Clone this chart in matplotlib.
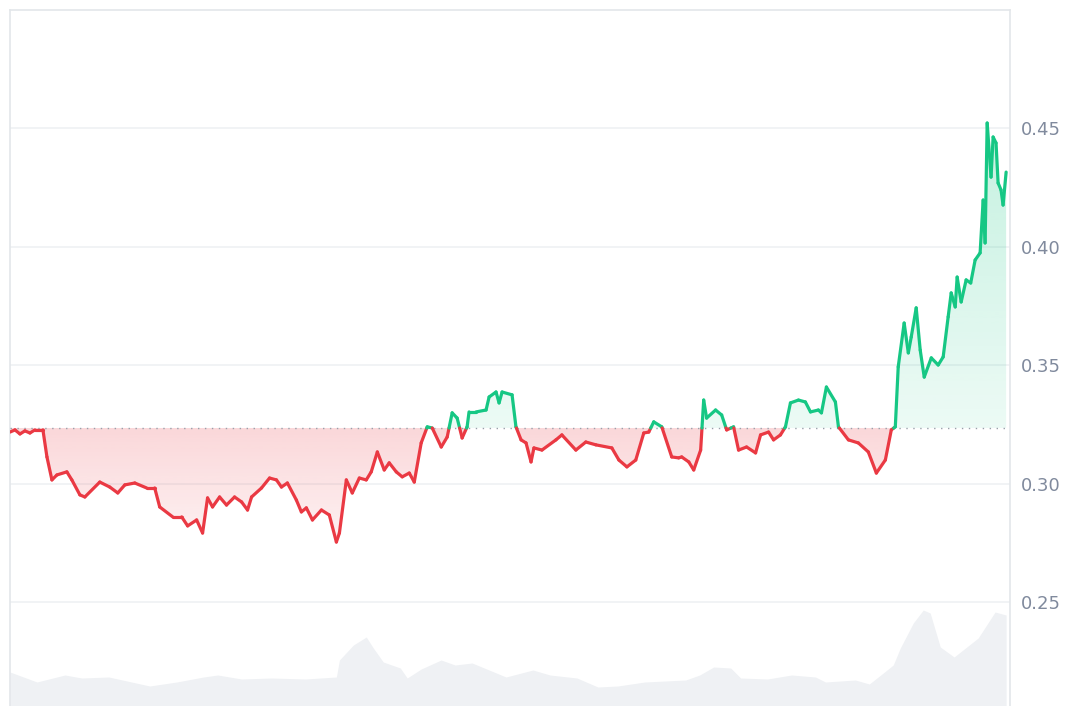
import numpy as np
import matplotlib
matplotlib.use("Agg")
import matplotlib.pyplot as plt
from matplotlib.collections import LineCollection
from matplotlib.path import Path
from matplotlib.patches import PathPatch

# ---- data (hours since start, price in USD) ----
hours = [0, 3.6, 7.2, 10.8, 14.4, 18.0, 23.8, 26.7, 30.3, 33.9, 41.1, 44.7, 50.5, 54.1,
         64.9, 72.1, 77.9, 83.0, 90.2, 98.8, 104.6, 108.2, 117.6, 124.1, 128.4, 134.9,
         139.2, 142.8, 146.4, 151.5, 156.5, 162.3, 167.4, 171.7, 174.6, 181.8, 187.6,
         192.6, 196.2, 200.5, 207.0, 210.6, 214.2, 218.6, 225.1, 230.8, 235.9, 238.1,
         243.1, 247.4, 252.5, 257.5, 261.1, 265.5, 270.5, 274.1, 279.2, 283.5, 288.6,
         292.2, 297.2, 301.6, 305.2, 311.7, 316.0, 319.6, 323.2, 326.8, 330.4, 331.8,
         336.9, 344.1, 346.3, 351.3, 353.5, 355.7, 362.9, 365.7, 369.4, 373.0, 376.6,
         378.7, 384.5, 394.6, 398.9, 409.0, 416.2, 423.5, 435.0, 440.1, 445.9, 452.3,
         458.1, 461.7, 465.3, 471.1, 478.3, 483.3, 485.5, 490.6, 494.2, 499.2, 501.4,
         503.5, 510.0, 514.4, 518.0, 523.0, 526.6, 532.4, 538.9, 542.5, 548.3, 551.9,
         556.9, 560.5, 564.1, 569.9, 574.9, 578.6, 584.3, 586.5, 590.1, 596.6, 598.8,
         606.0, 613.2, 620.4, 626.2, 632.7, 637.0, 639.9, 642.0, 646.3, 649.3, 651.4,
         655.0, 657.9, 660.8, 665.9, 670.9, 674.5, 678.1, 680.3, 683.2, 684.6, 687.5,
         691.1, 694.4, 697.6, 701.2, 703.4, 704.8, 706.3, 709.1, 710.6, 712.7, 714.2,
         716.3, 717.8, 720.0]
price = [0.3219, 0.3228, 0.3211, 0.3224, 0.3215, 0.3228, 0.3228, 0.3114, 0.3017, 0.3038,
         0.3051, 0.3017, 0.2954, 0.2945, 0.3008, 0.2987, 0.2962, 0.2996, 0.3004, 0.2983,
         0.2983, 0.2903, 0.2861, 0.2861, 0.2823, 0.2848, 0.2793, 0.2941, 0.2903, 0.2945,
         0.2911, 0.2945, 0.2924, 0.2890, 0.2945, 0.2983, 0.3025, 0.3017, 0.2987, 0.3004,
         0.2932, 0.2882, 0.2899, 0.2848, 0.2890, 0.2869, 0.2755, 0.2793, 0.3017, 0.2962,
         0.3025, 0.3017, 0.3051, 0.3135, 0.3059, 0.3089, 0.3051, 0.3030, 0.3046, 0.3008,
         0.3173, 0.3241, 0.3236, 0.3156, 0.3198, 0.3300, 0.3278, 0.3194, 0.3241, 0.3304,
         0.3304, 0.3312, 0.3367, 0.3388, 0.3342, 0.3388, 0.3376, 0.3241, 0.3186, 0.3173,
         0.3093, 0.3152, 0.3143, 0.3186, 0.3207, 0.3143, 0.3177, 0.3165, 0.3152, 0.3101,
         0.3072, 0.3101, 0.3215, 0.3219, 0.3262, 0.3241, 0.3114, 0.3110, 0.3114, 0.3093,
         0.3059, 0.3143, 0.3354, 0.3278, 0.3312, 0.3291, 0.3228, 0.3241, 0.3143, 0.3156,
         0.3131, 0.3207, 0.3219, 0.3186, 0.3207, 0.3241, 0.3342, 0.3354, 0.3346, 0.3304,
         0.3312, 0.3300, 0.3409, 0.3346, 0.3241, 0.3186, 0.3173, 0.3135, 0.3046, 0.3101,
         0.3228, 0.3241, 0.3494, 0.3679, 0.3553, 0.3620, 0.3743, 0.3565, 0.3451, 0.3532,
         0.3502, 0.3536, 0.3705, 0.3806, 0.3747, 0.3873, 0.3768, 0.3861, 0.3848, 0.3945,
         0.3975, 0.4198, 0.4017, 0.4523, 0.4295, 0.4464, 0.4439, 0.4270, 0.4241, 0.4177,
         0.4316]

vol_hours = [0, 19.5, 39.7, 51.9, 71.4, 101.0, 120.5, 139.9, 150.1, 167.4, 189.0, 213.5,
             235.9, 238.1, 248.2, 257.5, 262.6, 269.8, 282.1, 287.1, 297.2, 311.6, 321.7,
             334.0, 346.3, 358.5, 378.0, 390.3, 409.8, 424.9, 439.3, 458.8, 488.4, 498.5,
             508.6, 520.9, 528.1, 547.5, 564.9, 582.2, 589.4, 611.0, 621.1, 631.2, 638.4,
             643.5, 652.9, 660.1, 665.1, 672.4, 682.4, 699.8, 712.0, 720.0]
volume = [8.5, 6.0, 7.75, 7.0, 7.25, 5.0, 6.0, 7.25, 7.75, 6.75, 7.0, 6.75, 7.25, 11.5,
          15.25, 17.25, 14.5, 11.0, 9.5, 7.0, 9.25, 11.5, 10.25, 10.75, 9.0, 7.25, 9.0,
          7.75, 7.0, 4.75, 5.0, 6.0, 6.5, 7.75, 9.75, 9.5, 7.0, 6.75, 7.75, 7.25, 6.0,
          6.5, 5.5, 8.25, 10.25, 14.5, 20.75, 24.0, 23.25, 14.75, 12.25, 17.0, 23.5, 22.75]

baseline = 0.3236
yticks = [0.25, 0.30, 0.35, 0.40, 0.45]
ytick_labels = ["0.25", "0.30", "0.35", "0.40", "0.45"]

GREEN = "#16c784"
RED = "#ea3943"

W, H = 1067, 706
fig = plt.figure(figsize=(W / 100, H / 100), dpi=100)
pos = [10 / W, 0, 1000 / W, 696 / H]

# volume axis (behind)
ax_v = fig.add_axes(pos, zorder=0)
ax_v.fill_between(vol_hours, volume, 0, color="#eff1f4", lw=0)
ax_v.set_xlim(0, 722.8)
ax_v.set_ylim(0, 174)
ax_v.axis("off")

# price axis
ax = fig.add_axes(pos, zorder=1)
ax.patch.set_alpha(0)
ax.set_xlim(0, 722.8)
ax.set_ylim(0.2063, 0.50)

for yv in yticks:
    ax.axhline(yv, color="#eff1f4", lw=1.2, zorder=1)

t = np.array(hours, float)
p = np.array(price, float)
tt = [t[0]]
pp = [p[0]]
for i in range(1, len(t)):
    a, b = p[i - 1] - baseline, p[i] - baseline
    if a * b < 0:
        f = a / (a - b)
        tt.append(t[i - 1] + f * (t[i] - t[i - 1]))
        pp.append(baseline)
    tt.append(t[i])
    pp.append(p[i])
tt = np.array(tt)
pp = np.array(pp)


def gradient_fill(curve, color, y0, y1, a_low, a_high):
    verts = np.concatenate([np.column_stack([tt, curve]),
                            np.column_stack([tt[::-1], np.full(len(tt), baseline)])])
    patch = PathPatch(Path(verts), facecolor="none", edgecolor="none")
    ax.add_patch(patch)
    rgb = matplotlib.colors.to_rgb(color)
    n = 256
    img = np.zeros((n, 1, 4))
    img[:, 0, :3] = rgb
    img[:, 0, 3] = np.linspace(a_low, a_high, n)
    im = ax.imshow(img, extent=[tt[0], tt[-1], y0, y1], origin="lower",
                   aspect="auto", zorder=2, interpolation="bilinear")
    im.set_clip_path(patch)


above = np.maximum(pp, baseline)
below = np.minimum(pp, baseline)
gradient_fill(above, GREEN, baseline, pp.max(), 0.08, 0.25)
gradient_fill(below, RED, pp.min(), baseline, 0.07, 0.20)

ax.axhline(baseline, color="#9aa0aa", lw=1.0, ls=(0, (1, 4)), zorder=3)

segs = np.stack([np.column_stack([tt[:-1], pp[:-1]]),
                 np.column_stack([tt[1:], pp[1:]])], axis=1)
mid = (pp[:-1] + pp[1:]) / 2
cols = [GREEN if m > baseline + 1e-9 else RED for m in mid]
lc = LineCollection(segs, colors=cols, linewidths=2.3, capstyle="round",
                    joinstyle="round", zorder=4)
ax.add_collection(lc)

ax.set_xlim(0, 722.8)
ax.set_ylim(0.2063, 0.50)

ax.yaxis.tick_right()
ax.set_yticks(yticks)
ax.set_yticklabels(ytick_labels)
ax.tick_params(axis="y", length=0, pad=8, labelsize=13, labelcolor="#808a9d")
ax.set_xticks([])
for s in ["top", "left", "right"]:
    ax.spines[s].set_color("#e3e6ea")
    ax.spines[s].set_linewidth(1.2)
ax.spines["bottom"].set_visible(False)

fig.savefig("out.png", dpi=100)
